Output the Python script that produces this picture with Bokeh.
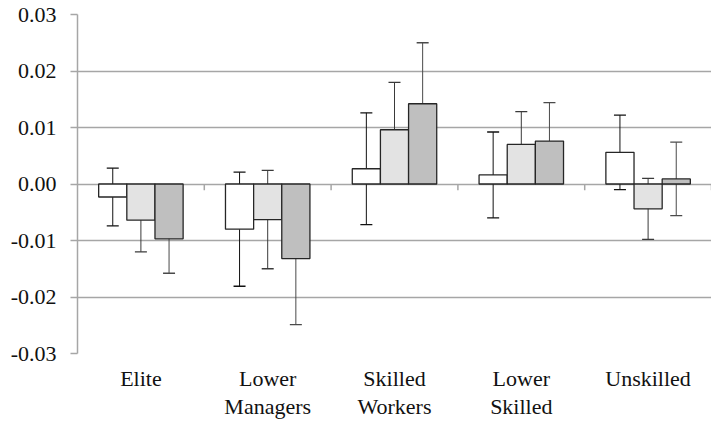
from bokeh.plotting import figure
from bokeh.models import ColumnDataSource, FixedTicker, Whisker, TeeHead
from bokeh.embed import file_html
from bokeh.resources import INLINE

categories = ["Elite", "Lower\nManagers", "Skilled\nWorkers", "Lower\nSkilled", "Unskilled"]
series1 = [-0.0023, -0.0080, 0.0027, 0.0016, 0.0056]
series2 = [-0.0064, -0.0063, 0.0096, 0.0070, -0.0044]
series3 = [-0.0097, -0.0132, 0.0142, 0.0076, 0.0009]
err1 = [0.0051, 0.0101, 0.0099, 0.0076, 0.0066]
err2 = [0.0056, 0.0087, 0.0084, 0.0058, 0.0054]
err3 = [0.0061, 0.0117, 0.0108, 0.0068, 0.0065]
y_ticks = [-0.03, -0.02, -0.01, 0.0, 0.01, 0.02, 0.03]
y_tick_labels = ["-0.03", "-0.02", "-0.01", "0.00", "0.01", "0.02", "0.03"]

FONT = "Liberation Serif"
GRID = "#a6a6a6"

p = figure(width=711, height=422, output_backend="svg", toolbar_location=None,
           x_range=(0, len(categories)), y_range=(-0.03, 0.03),
           min_border_left=77, min_border_right=0, min_border_top=14, min_border_bottom=69)
p.outline_line_color = None
p.background_fill_color = "white"
p.border_fill_color = "white"

bw = 0.222
offsets = [-bw, 0.0, bw]
fills = ["#ffffff", "#e3e3e3", "#bfbfbf"]
err_colors = ["#111111", "#3a3a3a", "#4a4a4a"]
centers = [i + 0.5 for i in range(len(categories))]

for vals, errs, off, fc, ec in zip([series1, series2, series3], [err1, err2, err3], offsets, fills, err_colors):
    xs = [c + off for c in centers]
    src = ColumnDataSource(dict(x=xs, top=vals,
                                upper=[v + e for v, e in zip(vals, errs)],
                                lower=[v - e for v, e in zip(vals, errs)]))
    p.vbar(x="x", top="top", bottom=0, width=bw, source=src,
           fill_color=fc, line_color="#262626", line_width=1.3)
    w = Whisker(base="x", upper="upper", lower="lower", source=src, dimension="height",
                line_color=ec, line_width=1,
                upper_head=TeeHead(size=12, line_color=ec, line_width=1.3),
                lower_head=TeeHead(size=12, line_color=ec, line_width=1.3))
    p.add_layout(w)

# category boundary ticks on the zero line
bounds = list(range(1, len(categories) + 1))
p.segment(x0=bounds, y0=[0] * len(bounds), x1=bounds, y1=[-0.0011] * len(bounds),
          line_color=GRID, line_width=1.5)

# y axis
yt = FixedTicker(ticks=y_ticks)
p.yaxis.ticker = yt
p.yaxis.major_label_overrides = {t: l for t, l in zip(y_ticks, y_tick_labels)}
p.yaxis.axis_line_color = GRID
p.yaxis.axis_line_width = 1.5
p.yaxis.major_tick_line_color = GRID
p.yaxis.major_tick_line_width = 1.5
p.yaxis.major_tick_out = 7
p.yaxis.major_tick_in = 0
p.yaxis.minor_tick_line_color = None
p.yaxis.major_label_text_font = FONT
p.yaxis.major_label_text_font_size = "22px"
p.yaxis.major_label_text_color = "#111111"
p.yaxis.major_label_standoff = 14

p.ygrid.ticker = yt
p.ygrid.grid_line_color = GRID
p.ygrid.grid_line_width = 1.5
p.xgrid.grid_line_color = None

# x axis (category labels)
p.xaxis.ticker = FixedTicker(ticks=centers)
p.xaxis.major_label_overrides = {c: l for c, l in zip(centers, categories)}
p.xaxis.axis_line_color = None
p.xaxis.major_tick_line_color = None
p.xaxis.minor_tick_line_color = None
p.xaxis.major_tick_out = 0
p.xaxis.major_tick_in = 0
p.xaxis.major_label_text_font = FONT
p.xaxis.major_label_text_font_size = "22px"
p.xaxis.major_label_text_color = "#111111"
p.xaxis.major_label_text_line_height = 1.15
p.xaxis.major_label_standoff = 12

open("out.html", "w").write(file_html(p, INLINE))
